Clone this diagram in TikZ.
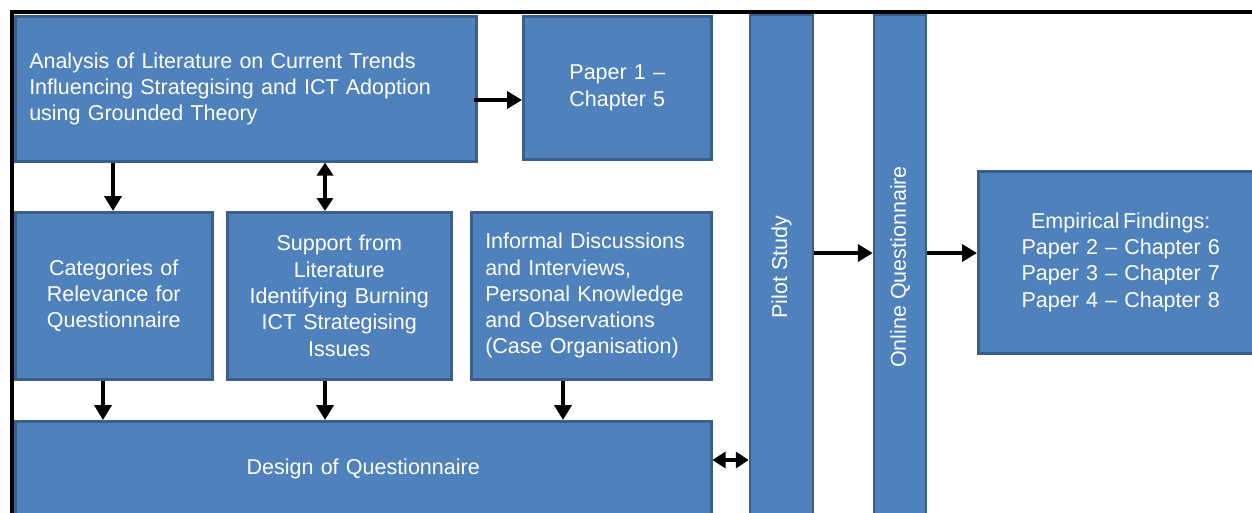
\documentclass[tikz,border=0pt]{standalone}
\usepackage{fontspec}
\setmainfont{Liberation Sans}
\usetikzlibrary{arrows.meta}
\definecolor{boxfill}{HTML}{4F81BD}
\definecolor{boxline}{HTML}{3A5F8B}
\begin{document}
\begin{tikzpicture}[x=1pt,y=-1pt,
  box/.style={draw=boxline, fill=boxfill, line width=2.5pt, inner sep=0pt,
    text=white, font=\fontsize{21.5}{26.3}\selectfont},
  nw/.style={anchor=north west},
  flow/.style={line width=4.5pt, -{Triangle[length=15pt,width=17pt]}},
  flow2/.style={line width=4.5pt, {Triangle[length=13pt,width=16pt]}-{Triangle[length=13pt,width=16pt]}}]
\useasboundingbox (0,0) rectangle (1252,512);
\begin{scope}
\clip (0,0) rectangle (1252,512);
% outer frame
\draw[line width=4pt] (11.5,530) -- (11.5,11.5) -- (1260,11.5);
% literature analysis and first paper
\node[box, nw, minimum width=461, minimum height=145, text width=433, align=left, inner xsep=14pt] (lit) at (14,15)
  {Analysis of Literature on Current Trends\\Influencing Strategising and ICT Adoption\\using Grounded Theory};
\node[box, nw, minimum width=188, minimum height=143, text width=180, align=center] (p1) at (522,15)
  {Paper 1 --\\Chapter 5};
% vertical stages
\node[box, rotate=90, minimum width=504, minimum height=63] (pilot) at (781.5,267) {Pilot Study};
\node[box, rotate=90, minimum width=504, minimum height=52] (online) at (900,267) {Online Questionnaire};
% findings
\node[box, nw, minimum width=285, minimum height=182, text width=270, align=center] (emp) at (977,170)
  {Empirical\,Findings:\\Paper 2 -- Chapter 6\\Paper 3 -- Chapter 7\\Paper 4 -- Chapter 8};
% inputs to the questionnaire
\node[box, nw, minimum width=197, minimum height=167, text width=185, align=center] (cat) at (14,211)
  {Categories of\\Relevance for\\Questionnaire};
\node[box, nw, minimum width=224, minimum height=167, text width=215, align=center] (sup) at (226,211)
  {Support from\\Literature\\Identifying Burning\\ICT Strategising\\Issues};
\node[box, nw, minimum width=240, minimum height=167, text width=212, align=left, inner xsep=14pt] (inf) at (470,211)
  {Informal Discussions\\and Interviews,\\Personal Knowledge\\and Observations\\(Case Organisation)};
\node[box, nw, minimum width=696, minimum height=96, text width=680, align=center] (des) at (14,420)
  {Design of Questionnaire};
% connectors
\draw[flow] ([xshift=-4pt]lit.east |- 0,100) -- (p1.west |- 0,100);
\draw[flow] (lit.south -| 113,0) -- (cat.north -| 113,0);
\draw[flow2] (lit.south -| 325,0) -- (sup.north -| 325,0);
\draw[flow] (cat.south -| 103,0) -- (des.north -| 103,0);
\draw[flow] (sup.south -| 325,0) -- (des.north -| 325,0);
\draw[flow] (inf.south -| 563,0) -- (des.north -| 563,0);
\draw[flow2] (des.east |- 0,460) -- (pilot.north |- 0,460);
\draw[flow] (pilot.south |- 0,253) -- (online.north |- 0,253);
\draw[flow] (online.south |- 0,253) -- (emp.west |- 0,253);
\end{scope}
\end{tikzpicture}
\end{document}
